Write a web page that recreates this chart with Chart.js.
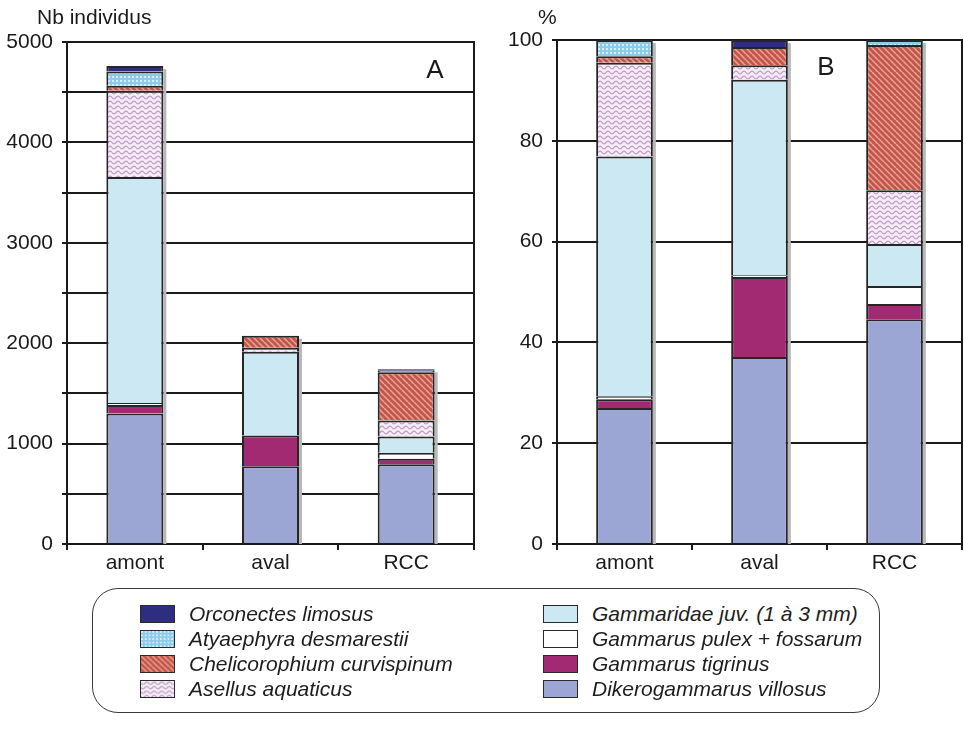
<!DOCTYPE html>
<html>
<head>
<meta charset="utf-8">
<script src="https://cdn.jsdelivr.net/npm/chart.js@4.4.1/dist/chart.umd.min.js"></script>
<style>
  html, body { margin: 0; padding: 0; background: #fff; }
  body { width: 964px; height: 738px; position: relative; overflow: hidden;
         font-family: 'Liberation Sans', Arial, sans-serif; color: #1e1e1e; }
  .panel { position: absolute; top: 0; width: 482px; height: 580px; }
  #legendBox { position: absolute; left: 92px; top: 588px; width: 788px; height: 125px;
               border: 1.5px solid #3a3a3a; border-radius: 26px; box-sizing: border-box; }
  .item { position: absolute; height: 22px; display: flex; align-items: center;
          font-style: italic; font-size: 21px; white-space: nowrap; color: #1e1e1e; }
  .item canvas { width: 35px; height: 18px; border: 1.5px solid #2a2a2a; box-sizing: border-box;
                 margin-right: 14px; display: block; }
</style>
</head>
<body>
<div class="panel" style="left:0"><canvas id="chartA"></canvas></div>
<div class="panel" style="left:482px"><canvas id="chartB"></canvas></div>
<div id="legendBox"></div>
<div id="legendItems"></div>

<script>
// Sampling sites
const categories = ['amont', 'aval', 'RCC'];

// Taxa, stacked from the bottom of each bar upwards
const taxa = [
  'Dikerogammarus villosus',
  'Gammarus tigrinus',
  'Gammarus pulex + fossarum',
  'Gammaridae juv. (1 à 3 mm)',
  'Asellus aquaticus',
  'Chelicorophium curvispinum',
  'Atyaephyra desmarestii',
  'Orconectes limosus'
];

// Panel A: number of individuals per site
const nbDikerogammarus = [1300, 775, 795];
const nbTigrinus       = [85, 305, 55];
const nbPulexFossarum  = [20, 0, 60];
const nbJuveniles      = [2250, 835, 160];
const nbAsellus        = [860, 40, 160];
const nbChelicorophium = [50, 120, 480];
const nbAtyaephyra     = [140, 0, 15];
const nbOrconectes     = [55, 0, 15];

// Panel B: relative abundance (%)
const pctDikerogammarus = [27.0, 37.1, 44.6];
const pctTigrinus       = [1.7, 15.9, 3.0];
const pctPulexFossarum  = [0.6, 0.3, 3.6];
const pctJuveniles      = [47.6, 38.8, 8.3];
const pctAsellus        = [18.6, 2.9, 10.7];
const pctChelicorophium = [1.3, 3.6, 28.8];
const pctAtyaephyra     = [3.2, 0, 1.0];
const pctOrconectes     = [0, 1.4, 0];

// Axis tick labels
const countTicks = [0, 1000, 2000, 3000, 4000, 5000];
const pctTicks = [0, 20, 40, 60, 80, 100];

// ---- fills -------------------------------------------------------------
function makeTile(w, h, paint) {
  const c = document.createElement('canvas');
  c.width = w; c.height = h;
  paint(c.getContext('2d'), w, h);
  return c;
}
const tileDots = makeTile(4, 4, (g) => {
  g.fillStyle = '#8ccbe9'; g.fillRect(0, 0, 4, 4);
  g.fillStyle = '#d6eef9'; g.fillRect(0, 0, 2, 2);
});
const tileHatch = makeTile(6, 6, (g) => {
  g.fillStyle = '#c4554b'; g.fillRect(0, 0, 6, 6);
  g.strokeStyle = '#e8a497'; g.lineWidth = 1.5;
  for (const o of [-6, 0, 6]) { g.beginPath(); g.moveTo(o, 0); g.lineTo(o + 6, 6); g.stroke(); }
});
const tileWave = makeTile(8, 5, (g) => {
  g.fillStyle = '#f5ecf5'; g.fillRect(0, 0, 8, 5);
  g.strokeStyle = '#bf98c6'; g.lineWidth = 1.2; g.beginPath();
  for (let x = 0; x <= 8; x += 0.5) {
    const y = 2.5 + 1.4 * Math.sin(x / 8 * 2 * Math.PI);
    if (x === 0) g.moveTo(x, y); else g.lineTo(x, y);
  }
  g.stroke();
});
const patCtx = document.createElement('canvas').getContext('2d');
const fills = [
  '#9ca6d4',                                   // Dikerogammarus villosus
  '#a22a73',                                   // Gammarus tigrinus
  '#ffffff',                                   // Gammarus pulex + fossarum
  '#cce8f3',                                   // Gammaridae juv.
  patCtx.createPattern(tileWave, 'repeat'),    // Asellus aquaticus
  patCtx.createPattern(tileHatch, 'repeat'),   // Chelicorophium curvispinum
  patCtx.createPattern(tileDots, 'repeat'),    // Atyaephyra desmarestii
  '#2d2f7e'                                    // Orconectes limosus
];

const INK = '#1a1a1a';
const FONT = "'Liberation Sans', Arial, sans-serif";

// Grey drop edge on the right of each stacked column
const columnShade = {
  id: 'columnShade',
  beforeDatasetsDraw(chart) {
    const ctx = chart.ctx;
    const base = chart.scales.y.getPixelForValue(0);
    const n = chart.data.labels.length;
    ctx.save();
    ctx.fillStyle = '#b8b8b8';
    for (let i = 0; i < n; i++) {
      let top = base, x = 0, w = 0;
      chart.data.datasets.forEach((ds, k) => {
        const el = chart.getDatasetMeta(k).data[i];
        x = el.x; w = el.width;
        if (ds.data[i] > 0) top = Math.min(top, el.y);
      });
      ctx.fillRect(x + w / 2, top + 3, 3, base - top - 3);
    }
    ctx.restore();
  }
};

// Frame line on the right, panel letter and unit caption
const panelDecor = {
  id: 'panelDecor',
  afterDraw(chart, args, o) {
    const { ctx, chartArea: a } = chart;
    ctx.save();
    ctx.strokeStyle = INK; ctx.lineWidth = 2;
    ctx.beginPath(); ctx.moveTo(a.right, a.top - 1); ctx.lineTo(a.right, a.bottom); ctx.stroke();
    ctx.fillStyle = INK;
    ctx.font = '26px ' + FONT;
    ctx.textAlign = 'center'; ctx.textBaseline = 'middle';
    ctx.fillText(o.letter, o.letterX, o.letterY);
    ctx.font = '21px ' + FONT;
    ctx.textAlign = 'left'; ctx.textBaseline = 'alphabetic';
    ctx.fillText(o.unit, o.unitX, 24);
    ctx.restore();
  }
};

function buildPanel(id, series, cfg) {
  const datasets = series.map((values, k) => ({
    label: taxa[k],
    data: values,
    backgroundColor: fills[k],
    borderColor: '#262626',
    borderWidth: 2,
    barPercentage: 0.42,
    categoryPercentage: 1
  }));
  return new Chart(document.getElementById(id), {
    type: 'bar',
    data: { labels: categories, datasets },
    options: {
      responsive: true,
      maintainAspectRatio: false,
      animation: false,
      layout: { padding: { left: 0, right: cfg.padRight, top: cfg.top, bottom: 0 } },
      plugins: {
        legend: { display: false },
        tooltip: { enabled: false },
        panelDecor: cfg.decor
      },
      scales: {
        x: {
          stacked: true,
          offset: true,
          grid: { display: true, drawOnChartArea: false, drawTicks: true, tickLength: 6,
                  color: INK, lineWidth: 2 },
          border: { display: true, color: INK, width: 2 },
          ticks: { color: INK, font: { family: FONT, size: 21 }, padding: 1 },
          afterFit(s) { s.height = 580 - 544; }
        },
        y: {
          stacked: true,
          min: 0,
          max: cfg.max,
          grid: { color: INK, lineWidth: 2, drawTicks: true, tickLength: 5 },
          border: { display: true, color: INK, width: 2 },
          ticks: {
            stepSize: cfg.step,
            autoSkip: false,
            color: INK,
            padding: 9,
            font: { family: FONT, size: 21 },
            callback: (v) => (cfg.labels.includes(v) ? String(v) : '')
          },
          afterFit(s) { s.width = cfg.left; }
        }
      }
    },
    plugins: [columnShade, panelDecor]
  });
}

buildPanel('chartA',
  [nbDikerogammarus, nbTigrinus, nbPulexFossarum, nbJuveniles,
   nbAsellus, nbChelicorophium, nbAtyaephyra, nbOrconectes],
  { max: 5000, step: 500, labels: countTicks, left: 67, padRight: 8, top: 42,
    decor: { letter: 'A', letterX: 435, letterY: 71, unit: 'Nb individus', unitX: 37 } });

buildPanel('chartB',
  [pctDikerogammarus, pctTigrinus, pctPulexFossarum, pctJuveniles,
   pctAsellus, pctChelicorophium, pctAtyaephyra, pctOrconectes],
  { max: 100, step: 20, labels: pctTicks, left: 75, padRight: 2, top: 40,
    decor: { letter: 'B', letterX: 344, letterY: 68, unit: '%', unitX: 56 } });

// ---- legend ------------------------------------------------------------
const legendColumns = [
  { swatchX: 140, rows: [7, 6, 5, 4] },
  { swatchX: 543, rows: [3, 2, 1, 0] }
];
const rowCentres = [614, 639, 664, 689];
const holder = document.getElementById('legendItems');
legendColumns.forEach((col) => {
  col.rows.forEach((k, r) => {
    const item = document.createElement('div');
    item.className = 'item';
    item.style.left = col.swatchX + 'px';
    item.style.top = (rowCentres[r] - 11) + 'px';
    const sw = document.createElement('canvas');
    sw.width = 35; sw.height = 18;
    const g = sw.getContext('2d');
    g.fillStyle = fills[k]; g.fillRect(0, 0, 35, 18);
    item.appendChild(sw);
    const label = document.createElement('span');
    label.textContent = taxa[k];
    item.appendChild(label);
    holder.appendChild(item);
  });
});
</script>
</body>
</html>
